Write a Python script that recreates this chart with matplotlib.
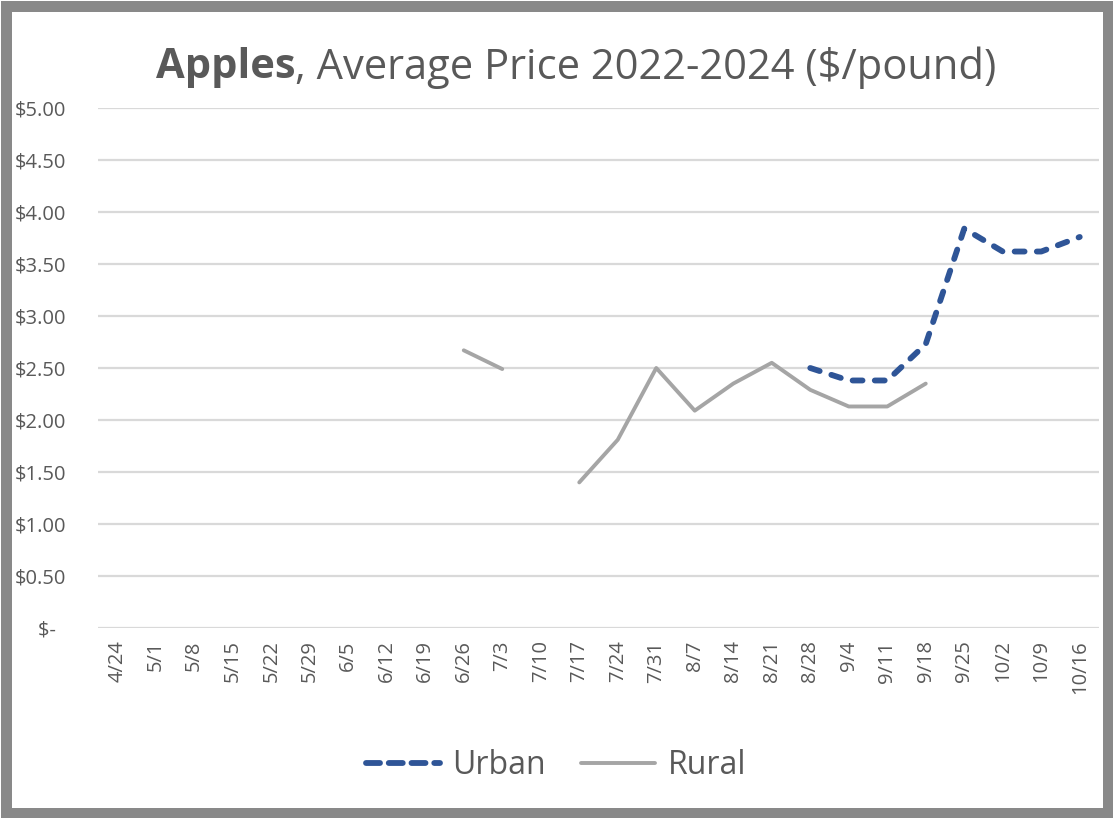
import matplotlib
matplotlib.use("Agg")
import matplotlib.pyplot as plt
from matplotlib.patches import Rectangle
from matplotlib.lines import Line2D
import numpy as np

categories = ["4/24", "5/1", "5/8", "5/15", "5/22", "5/29", "6/5", "6/12", "6/19",
              "6/26", "7/3", "7/10", "7/17", "7/24", "7/31", "8/7", "8/14", "8/21",
              "8/28", "9/4", "9/11", "9/18", "9/25", "10/2", "10/9", "10/16"]
N = None
urban = [N, N, N, N, N, N, N, N, N, N, N, N, N, N, N, N, N, N,
         2.50, 2.38, 2.38, 2.73, 3.84, 3.62, 3.62, 3.76]
rural = [N, N, N, N, N, N, N, N, N, 2.67, 2.49, N, 1.40, 1.81, 2.50, 2.09, 2.35, 2.55,
         2.29, 2.13, 2.13, 2.35, N, N, N, N]
ytick_vals = [0, 0.5, 1.0, 1.5, 2.0, 2.5, 3.0, 3.5, 4.0, 4.5, 5.0]
ytick_labels = ["$-  ", "$0.50", "$1.00", "$1.50", "$2.00", "$2.50", "$3.00",
                "$3.50", "$4.00", "$4.50", "$5.00"]
title_bold = "Apples"
title_rest = ", Average Price 2022-2024 ($/pound)"

FONT = ["Open Sans", "DejaVu Sans"]
TXT = "#595959"
W, H = 1113, 818
fig = plt.figure(figsize=(W / 100, H / 100), dpi=100)
fig.patch.set_facecolor("white")

ax = fig.add_axes([98 / W, 1 - 628 / H, (1099 - 98) / W, (628 - 108) / H])
x = np.arange(len(categories))
u = np.array([np.nan if v is None else v for v in urban], dtype=float)
r = np.array([np.nan if v is None else v for v in rural], dtype=float)

ax.plot(x, r, color="#A5A5A5", lw=2.8, solid_capstyle="round", solid_joinstyle="round",
        label="Rural", zorder=3)
ax.plot(x, u, color="#2F5597", lw=4.2, linestyle=(0, (1.7, 2.1)),
        dash_capstyle="round", dash_joinstyle="round", label="Urban", zorder=4)

ax.set_xlim(-0.5, len(categories) - 0.5)
ax.set_ylim(0, 5)
ax.set_yticks(ytick_vals)
ax.set_yticklabels(ytick_labels, family=FONT, fontsize=14.5, color=TXT)
ax.set_xticks(x)
ax.set_xticklabels(categories, rotation=90, family=FONT, fontsize=14.5, color=TXT)
ax.tick_params(axis="both", length=0)
ax.tick_params(axis="y", pad=23)
ax.tick_params(axis="x", pad=9)
for s in ax.spines.values():
    s.set_visible(False)
ax.grid(axis="y", color="#D9D9D9", lw=1.6)
ax.set_axisbelow(True)

# legend
handles = [Line2D([0], [0], color="#2F5597", lw=4.2, linestyle=(0, (2.4, 1.5)),
                  dash_capstyle="round"),
           Line2D([0], [0], color="#A5A5A5", lw=2.8, solid_capstyle="round")]
leg = fig.legend(handles, ["Urban", "Rural"], loc="center", bbox_to_anchor=(556 / W, 1 - 766 / H),
                 ncol=2, frameon=False, handlelength=2.3, columnspacing=1.1, handletextpad=0.4,
                 prop={"family": FONT, "size": 23})
for t in leg.get_texts():
    t.set_color(TXT)

# title with bold first word
fig.canvas.draw()
renderer = fig.canvas.get_renderer()
t1 = fig.text(0, 1 - 68 / H, title_bold, fontsize=30, fontweight="bold", color=TXT,
              family=FONT, va="center", ha="left")
t2 = fig.text(0, 1 - 68 / H, title_rest, fontsize=30, color=TXT, family=FONT,
              va="center", ha="left")
w1 = t1.get_window_extent(renderer).width
w2 = t2.get_window_extent(renderer).width
cx = 576
start = cx - (w1 + w2) / 2
t1.set_x(start / W)
t2.set_x((start + w1) / W)

# outer gray frame
bw = 11
fig.patches.append(Rectangle((bw / 2 / W, bw / 2 / H), 1 - bw / W, 1 - bw / H,
                             transform=fig.transFigure, fill=False, edgecolor="#898989",
                             lw=bw * 72 / 100, zorder=10))

fig.savefig("out.png", dpi=100, facecolor="white")
